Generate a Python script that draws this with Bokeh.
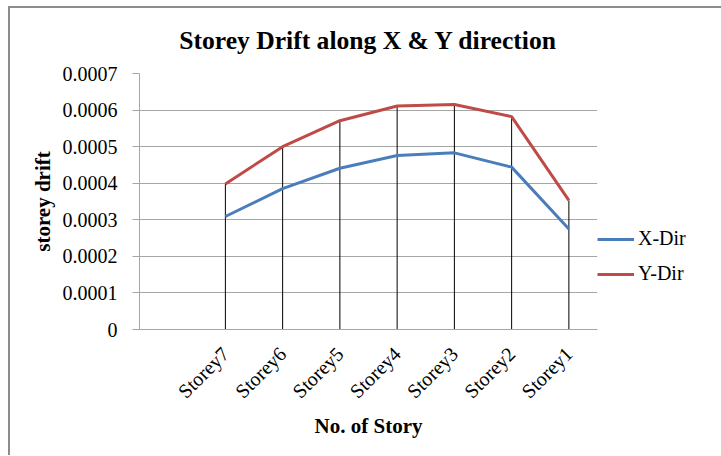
from bokeh.plotting import figure
from bokeh.models import FactorRange, Range1d, FixedTicker, NumeralTickFormatter, Legend, LegendItem
from bokeh.embed import file_html
from bokeh.resources import INLINE
import math

categories = [" ", "Storey7", "Storey6", "Storey5", "Storey4", "Storey3", "Storey2", "Storey1"]
storeys = ["Storey7", "Storey6", "Storey5", "Storey4", "Storey3", "Storey2", "Storey1"]
x_dir = [0.000309, 0.000385, 0.000441, 0.000476, 0.000483, 0.000444, 0.000275]
y_dir = [0.000398, 0.000500, 0.000571, 0.000611, 0.000615, 0.000582, 0.000353]
y_ticks = [0, 0.0001, 0.0002, 0.0003, 0.0004, 0.0005, 0.0006, 0.0007]

FONT = "Liberation Serif"
GRID = "#a6a6a6"
EDGE = "#8c8c8c"

p = figure(frame_width=458, frame_height=256, output_backend="svg", toolbar_location=None,
           x_range=FactorRange(*categories, range_padding=0),
           y_range=Range1d(0, 0.0007),
           min_border_left=139, min_border_right=124, min_border_top=73, min_border_bottom=126,
           title="Storey Drift along X & Y direction")
p.border_fill_color = None
p.styles = {
    "background": (f"linear-gradient({EDGE}, {EDGE}) 8px 6px / 2px 100% no-repeat, "
                   f"linear-gradient({EDGE}, {EDGE}) 8px 6px / 100% 2px no-repeat, white"),
}
p.outline_line_color = None

p.title.text_font = FONT
p.title.text_font_size = "25.6px"
p.title.text_font_style = "bold"
p.title.align = "center"
p.title.offset = 8
p.title.text_color = "black"
p.title.standoff = 38

# drop lines
p.segment(x0=storeys, y0=[0] * len(storeys), x1=storeys, y1=y_dir, line_color="black", line_width=1)

rx = p.line(storeys, x_dir, line_color="#4A7EBB", line_width=3)
ry = p.line(storeys, y_dir, line_color="#BE4B48", line_width=3)

p.xgrid.grid_line_color = None
p.ygrid.grid_line_color = GRID
p.ygrid.grid_line_width = 1

p.yaxis.ticker = FixedTicker(ticks=y_ticks)
p.yaxis.formatter = NumeralTickFormatter(format="0.[0000]")
p.yaxis.major_tick_out = 7
p.yaxis.major_tick_in = 0
p.yaxis.minor_tick_out = 0
p.yaxis.minor_tick_in = 0
p.yaxis.major_tick_line_color = GRID
p.yaxis.axis_line_color = GRID
p.yaxis.major_label_standoff = 15
p.yaxis.axis_label = "storey drift"
p.yaxis.axis_label_standoff = 5

p.xaxis.major_tick_out = 0
p.xaxis.major_tick_in = 0
p.xaxis.axis_line_color = GRID
p.xaxis.major_label_orientation = math.pi / 4
p.xaxis.major_label_standoff = 21
p.xaxis.axis_label = "No. of Story"
p.xaxis.axis_label_standoff = 1

for ax in (p.xaxis[0], p.yaxis[0]):
    ax.major_label_text_font = FONT
    ax.major_label_text_font_size = "20px"
    ax.major_label_text_color = "black"
    ax.axis_label_text_font = FONT
    ax.axis_label_text_font_size = "21px"
    ax.axis_label_text_font_style = "bold"
    ax.axis_label_text_color = "black"

legend = Legend(items=[LegendItem(label="X-Dir", renderers=[rx]), LegendItem(label="Y-Dir", renderers=[ry])],
                location="top_left", padding=15, margin=0, spacing=12,
                title=" ", title_text_font_size="1px", title_standoff=153,
                glyph_width=37, glyph_height=20, label_height=20, label_standoff=4,
                label_text_font=FONT, label_text_font_size="20px", label_text_color="black",
                border_line_color=None, background_fill_alpha=0)
p.add_layout(legend, "right")

open("out.html", "w").write(file_html(p, INLINE))
